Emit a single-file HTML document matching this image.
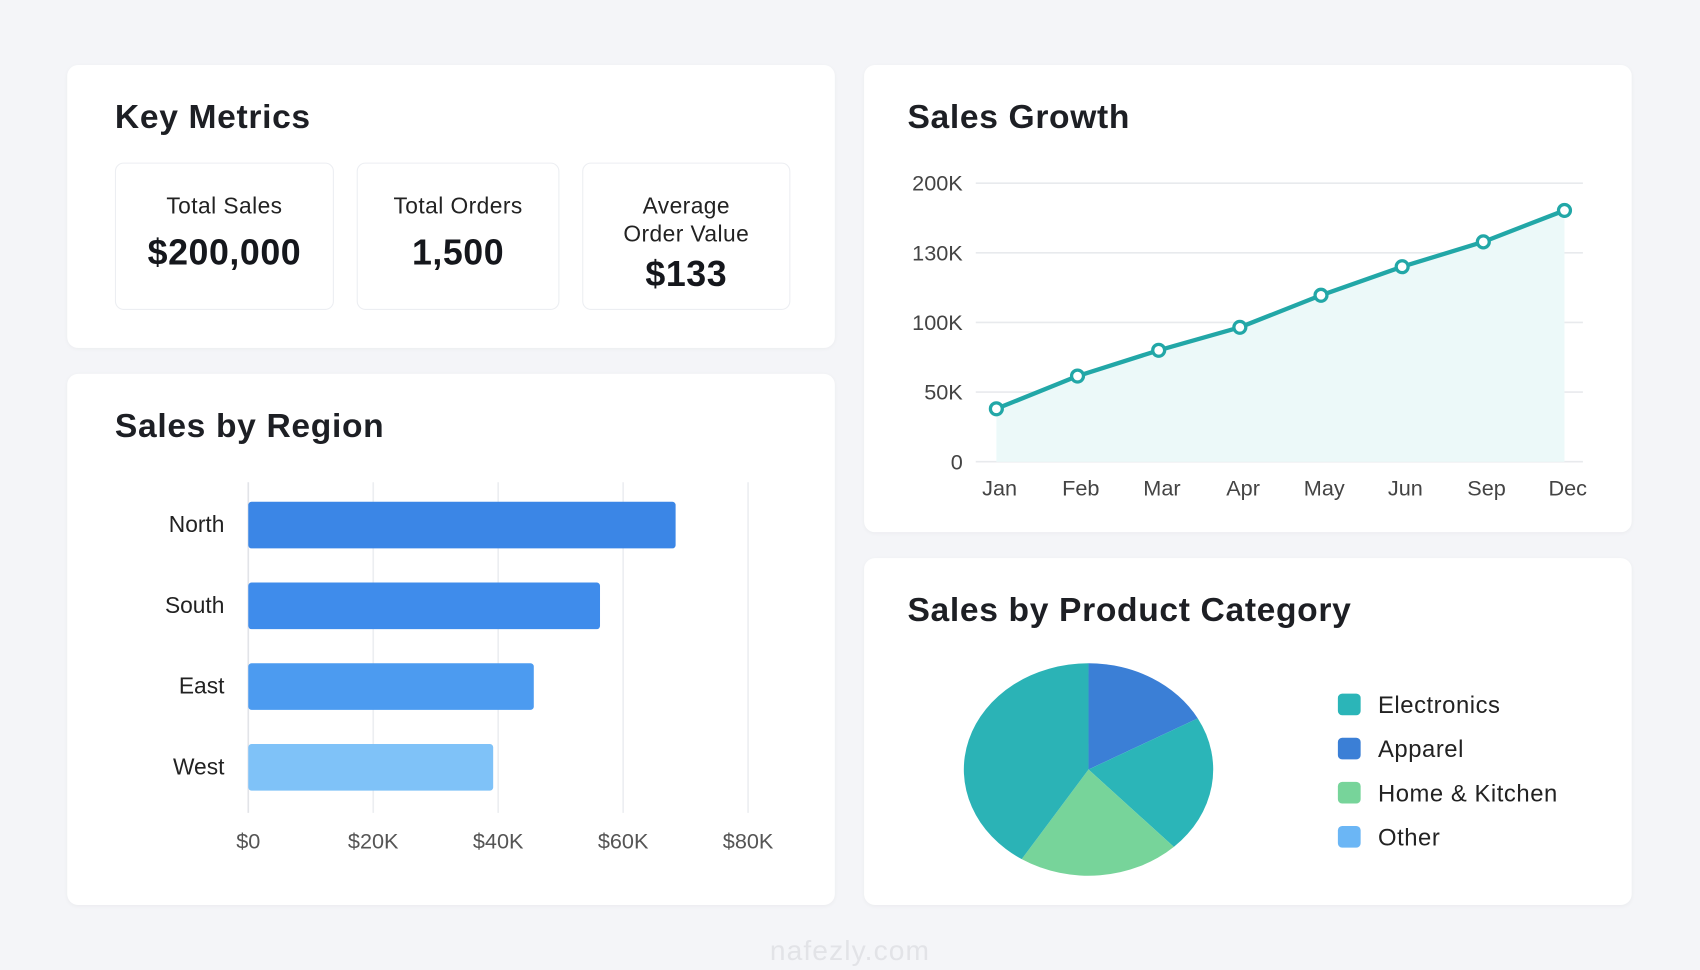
<!DOCTYPE html>
<html><head><meta charset="utf-8">
<style>
html,body{margin:0;padding:0;background:#f4f5f8;width:1700px;height:970px;overflow:hidden;font-family:"Liberation Sans",sans-serif;color:#1d1f24}
#wrap{position:absolute;left:0;top:0;width:1568px;height:895px;transform:scale(1.08418,1.08380);transform-origin:0 0}
.card{position:absolute;background:#fff;border-radius:10px;box-shadow:0 1px 4px rgba(0,0,0,0.04)}
.title{position:absolute;font-size:31px;font-weight:bold;color:#1d1f24;letter-spacing:0.6px}
.metric{position:absolute;border:1.5px solid #eceef2;border-radius:8px;text-align:center;background:#fff}
.ml{font-size:21px;color:#222;line-height:26px;letter-spacing:0.4px}
.mv{font-size:33px;font-weight:bold;color:#15171c;letter-spacing:0.5px}
svg text{font-family:"Liberation Sans",sans-serif}
</style></head><body>
<div id="wrap">
<div class="card" style="left:62px;top:60px;width:708px;height:261px">
  <div class="title" style="left:44px;top:30px">Key Metrics</div>
  <div class="metric" style="left:44px;top:90px;width:200px;height:134px">
    <div class="ml" style="margin-top:27px">Total Sales</div><div class="mv" style="margin-top:10px">$200,000</div></div>
  <div class="metric" style="left:267px;top:90px;width:185px;height:134px">
    <div class="ml" style="margin-top:27px">Total Orders</div><div class="mv" style="margin-top:10px">1,500</div></div>
  <div class="metric" style="left:475px;top:90px;width:190px;height:134px">
    <div class="ml" style="margin-top:27px">Average<br>Order Value</div><div class="mv" style="margin-top:4px">$133</div></div>
</div>

<div class="card" style="left:62px;top:345px;width:708px;height:490px">
  <div class="title" style="left:44px;top:30px">Sales by Region</div>
</div>
<svg id="bar" style="position:absolute;left:0;top:0" width="800" height="895"></svg>

<div class="card" style="left:797px;top:60px;width:708px;height:431px">
  <div class="title" style="left:40px;top:30px">Sales Growth</div>
</div>
<svg id="line" style="position:absolute;left:0;top:0" width="1568" height="500"></svg>

<div class="card" style="left:797px;top:515px;width:708px;height:320px">
  <div class="title" style="left:40px;top:30px">Sales by Product Category</div>
</div>
<svg id="pie" style="position:absolute;left:0;top:0" width="1568" height="895"></svg>

<div style="position:absolute;left:0;width:1568px;top:862px;text-align:center;font-size:26px;color:#e2e3e7;letter-spacing:1px">nafezly.com</div>
</div>
<script>
const NS="http://www.w3.org/2000/svg";
function mk(p,t,a){const e=document.createElementNS(NS,t);for(const k in a)e.setAttribute(k,a[k]);p.appendChild(e);return e;}

// ---- Bar chart data ----
const regions=["North","South","East","West"];
const regionSales=[68.4,56.3,45.7,39.2];
const regionColors=["#3b86e6","#3f8ceb","#4c9bf0","#7fc2f8"];
const barTicks=[0,20,40,60,80];
const barTickLabels=["$0","$20K","$40K","$60K","$80K"];

const bar=document.getElementById("bar");
const bx=v=>229+(v/80)*(690-229);
const by=i=>463+i*74.5;
barTicks.forEach((t,i)=>{
  const g=mk(bar,"line",{x1:bx(t),x2:bx(t),y1:445,y2:750,stroke:i==0?"#e2e4e8":"#eceef1","stroke-width":1.5});
  
  
  const l=mk(bar,"text",{x:bx(t),y:783,"text-anchor":"middle","font-size":20,fill:"#555"});
  l.textContent=barTickLabels[i];
  
  
});
regions.forEach((r,i)=>{
  const b=mk(bar,"rect",{x:bx(0),y:by(i),width:bx(regionSales[i])-bx(0),height:43,rx:3,fill:regionColors[i]});
  
  
  const l=mk(bar,"text",{x:207,y:by(i)+28,"text-anchor":"end","font-size":21,fill:"#222"});
  l.textContent=r;
  
  
});

// ---- Line chart data ----
const months=["Jan","Feb","Mar","Apr","May","Jun","Sep","Dec"];
const growth=[38,61.5,80,96.5,111.7,124,141,172.6];
const yTicks=[0,50,100,130,200];
const yTickLabels=["0","50K","100K","130K","200K"];

const line=document.getElementById("line");
const lx=i=>919+i*(1443-919)/(months.length-1);
function ly(v){
  for(let k=0;k<yTicks.length-1;k++){
    if(v<=yTicks[k+1]||k==yTicks.length-2){
      const f=(v-yTicks[k])/(yTicks[k+1]-yTicks[k]);
      return 426-(k+f)*64.25;
    }
  }
}
yTicks.forEach((t,i)=>{
  const g=mk(line,"line",{x1:900,x2:1460,y1:ly(t),y2:ly(t),stroke:"#e8eaed","stroke-width":1.5});
  
  
  const l=mk(line,"text",{x:888,y:ly(t)+7,"text-anchor":"end","font-size":20,fill:"#444"});
  l.textContent=yTickLabels[i];
  
  
});
let pts=growth.map((v,i)=>lx(i)+","+ly(v));
const area=mk(line,"polygon",{points:lx(0)+","+ly(0)+" "+pts.join(" ")+" "+lx(growth.length-1)+","+ly(0),fill:"#ecf9f9"});


const pl=mk(line,"polyline",{points:pts.join(" "),fill:"none",stroke:"#22a7a7","stroke-width":4,"stroke-linejoin":"round"});


growth.forEach((v,i)=>{
  const c=mk(line,"circle",{cx:lx(i),cy:ly(v),r:5.5,fill:"#fff",stroke:"#22a7a7","stroke-width":3});
  
  
  const l=mk(line,"text",{x:lx(i)+3,y:457,"text-anchor":"middle","font-size":20,fill:"#444"});
  l.textContent=months[i];
  
  
});

// ---- Pie chart data ----
const sliceLabels=["Apparel","Electronics","Home & Kitchen","Electronics"];
const sliceValues=[17,21,21,41];
const sliceColors=["#3b7fd6","#2bb5b8","#77d49a","#2bb3b6"];
const legendLabels=["Electronics","Apparel","Home & Kitchen","Other"];
const legendColors=["#2bb5b8","#3b7fd6","#77d49a","#6bb6f5"];

const pie=document.getElementById("pie");
const cx=1004,cy=710,rx=115,ry=98;
const tot=sliceValues.reduce((a,b)=>a+b,0);
let a0=0;
sliceValues.forEach((v,i)=>{
  const a1=a0+v/tot*2*Math.PI;
  const p=(a)=>[cx+rx*Math.sin(a),cy-ry*Math.cos(a)];
  const s=p(a0),e=p(a1);
  const d=`M${cx},${cy} L${s[0]},${s[1]} A${rx},${ry} 0 ${a1-a0>Math.PI?1:0} 1 ${e[0]},${e[1]} Z`;
  const sl=mk(pie,"path",{d:d,fill:sliceColors[i]});
  
  
  a0=a1;
});
legendLabels.forEach((l,i)=>{
  const y=650+i*40.7;
  const r=mk(pie,"rect",{x:1234,y:y-10,width:21,height:20,rx:4,fill:legendColors[i]});
  
  
  const t=mk(pie,"text",{x:1271,y:y+8,"font-size":22,fill:"#222","letter-spacing":"0.5"});
  t.textContent=l;
  
  
});
</script>
</body></html>
